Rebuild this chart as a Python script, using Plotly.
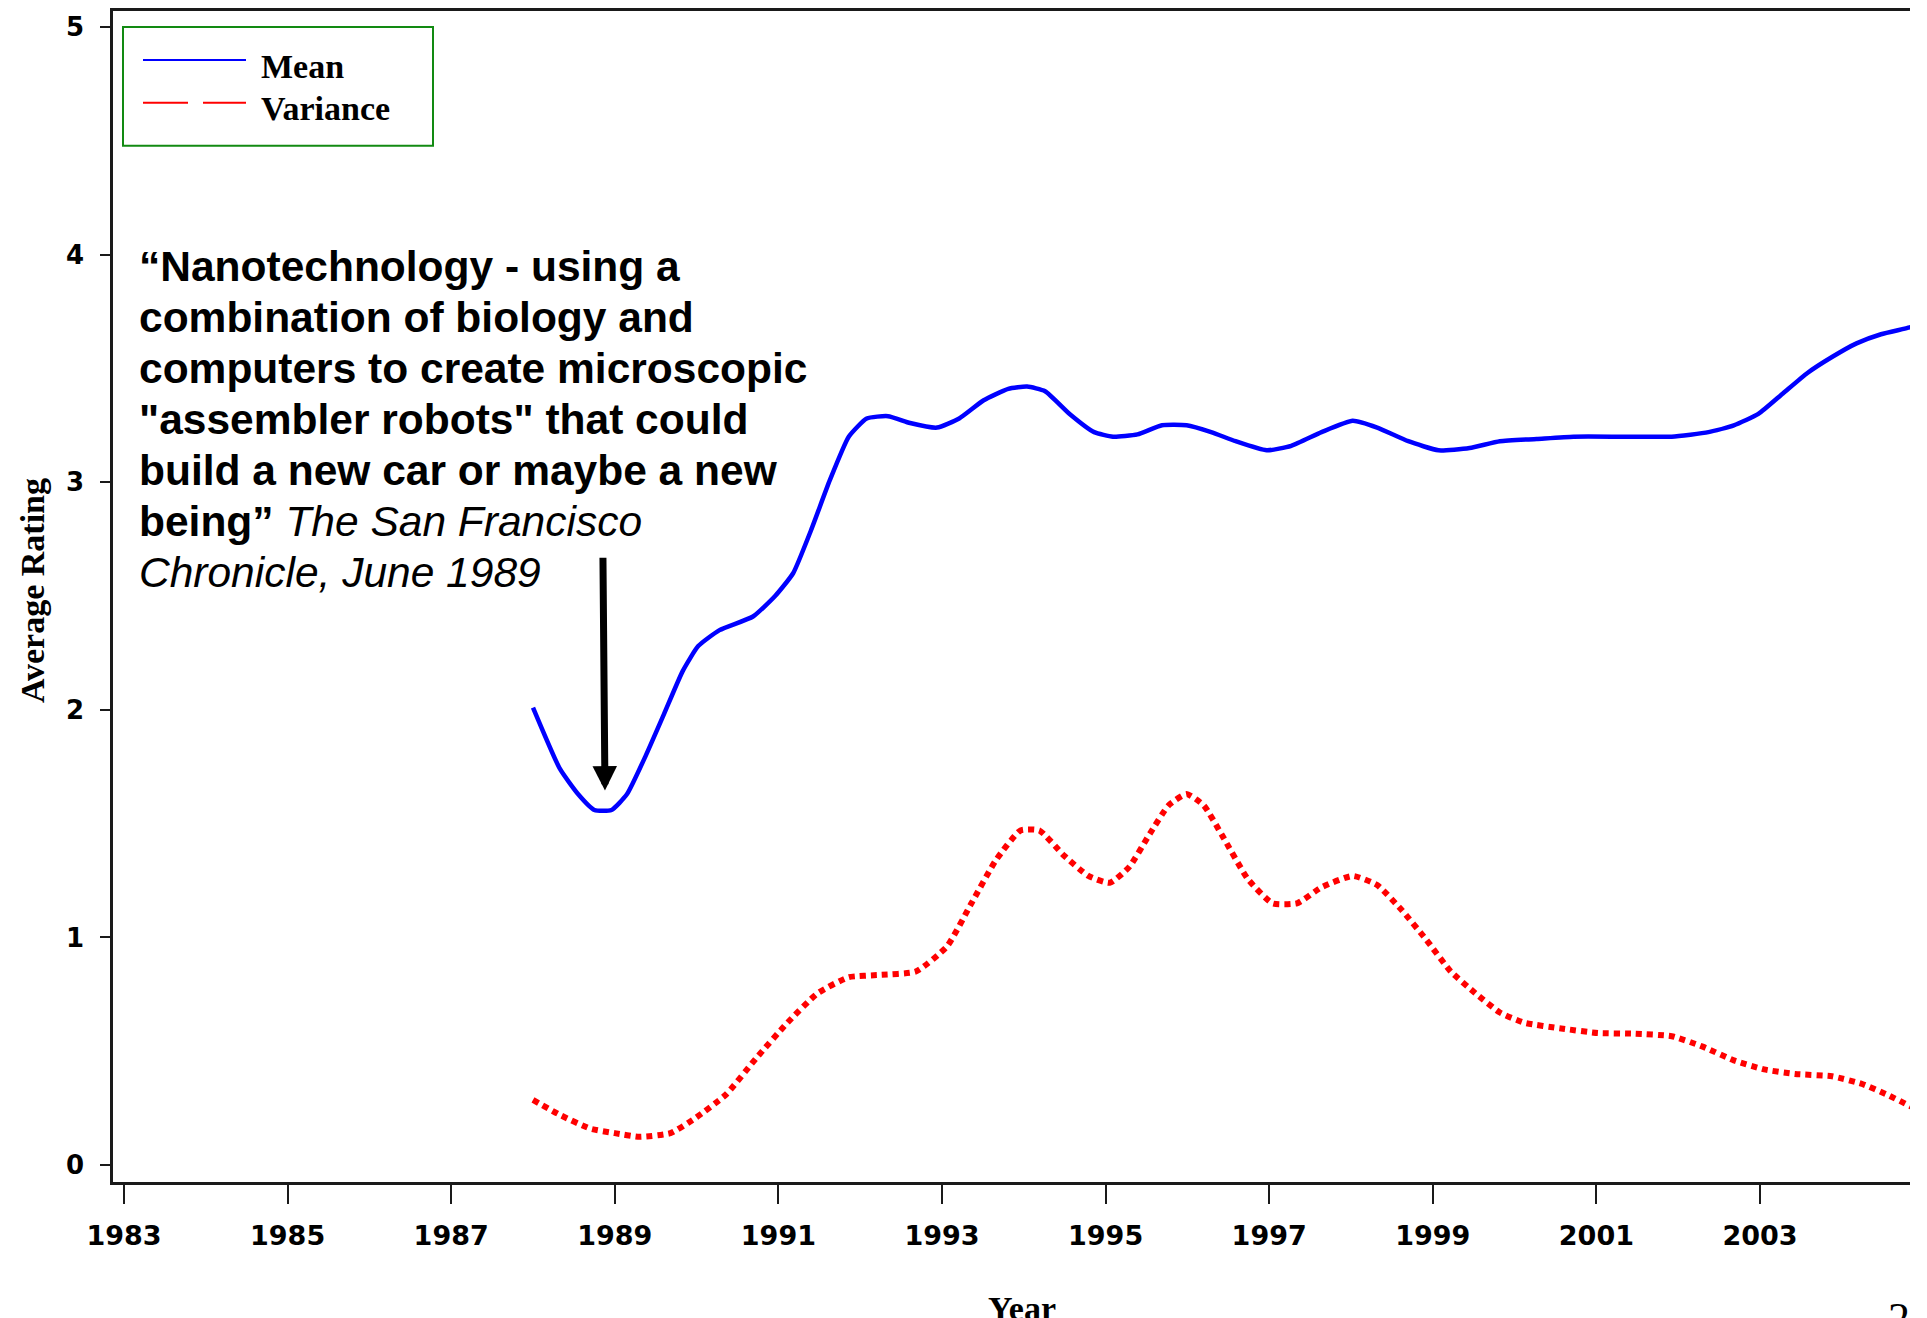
import plotly.graph_objects as go

# ---------------- data ----------------
mean_years = [1988.0, 1988.33, 1988.55, 1988.75, 1988.96, 1989.15, 1989.38, 1989.6, 1989.83, 1990.02,
              1990.28, 1990.69, 1990.96, 1991.18, 1991.4, 1991.63, 1991.86, 1992.08, 1992.34, 1992.61,
              1992.94, 1993.21, 1993.51, 1993.81, 1994.04, 1994.26, 1994.56, 1994.86, 1995.09, 1995.39,
              1995.69, 1995.99, 1996.29, 1996.59, 1996.97, 1997.27, 1997.64, 1998.02, 1998.32, 1998.7,
              1999.07, 1999.45, 1999.82, 2000.27, 2000.72, 2001.32, 2001.92, 2002.37, 2002.68, 2002.98,
              2003.28, 2003.58, 2003.88, 2004.18, 2004.48, 2004.83, 2005.0]
mean_vals = [2.01, 1.74, 1.63, 1.56, 1.56, 1.63, 1.80, 1.98, 2.17, 2.28,
             2.35, 2.41, 2.50, 2.60, 2.79, 3.01, 3.20, 3.28, 3.29, 3.26,
             3.24, 3.28, 3.36, 3.41, 3.42, 3.40, 3.30, 3.22, 3.20, 3.21,
             3.25, 3.25, 3.22, 3.18, 3.14, 3.16, 3.22, 3.27, 3.24, 3.18,
             3.14, 3.15, 3.18, 3.19, 3.20, 3.20, 3.20, 3.22, 3.25, 3.30,
             3.39, 3.48, 3.55, 3.61, 3.65, 3.68, 3.70]

var_years = [1988.0, 1988.33, 1988.7, 1989.0, 1989.3, 1989.68, 1989.98, 1990.36, 1990.73, 1991.11,
             1991.48, 1991.86, 1992.23, 1992.68, 1993.06, 1993.36, 1993.66, 1993.96, 1994.19, 1994.49,
             1994.79, 1995.05, 1995.29, 1995.54, 1995.77, 1995.99, 1996.2, 1996.43, 1996.74, 1997.04,
             1997.34, 1997.64, 1998.02, 1998.32, 1998.62, 1998.92, 1999.22, 1999.52, 1999.82, 2000.12,
             2000.57, 2001.02, 2001.47, 2001.92, 2002.3, 2002.68, 2003.05, 2003.43, 2003.88, 2004.25,
             2004.55, 2004.83, 2005.0]
var_vals = [0.286, 0.22, 0.16, 0.14, 0.124, 0.14, 0.205, 0.31, 0.47, 0.625,
            0.755, 0.825, 0.835, 0.85, 0.96, 1.15, 1.34, 1.47, 1.47, 1.36,
            1.27, 1.24, 1.31, 1.455, 1.58, 1.63, 1.58, 1.445, 1.256, 1.15,
            1.15, 1.22, 1.27, 1.23, 1.12, 0.99, 0.85, 0.755, 0.67, 0.625,
            0.60, 0.58, 0.577, 0.566, 0.52, 0.46, 0.42, 0.40, 0.39, 0.356,
            0.31, 0.26, 0.23]

x_tick_vals = [1983, 1985, 1987, 1989, 1991, 1993, 1995, 1997, 1999, 2001, 2003, 2005]
x_tick_text = ["1983", "1985", "1987", "1989", "1991", "1993", "1995", "1997", "1999", "2001", "2003", "2005"]
y_tick_vals = [0, 1, 2, 3, 4, 5]
y_tick_text = ["0", "1", "2", "3", "4", "5"]

legend_labels = ["Mean", "Variance"]
x_title = "Year"
y_title = "Average Rating"
quote_lines = [
    "<b>“Nanotechnology - using a</b>",
    "<b>combination of biology and</b>",
    "<b>computers to create microscopic</b>",
    "<b>\"assembler robots\" that could</b>",
    "<b>build a new car or maybe a new</b>",
    "<b>being”</b> <i>The San Francisco</i>",
    "<i>Chronicle, June 1989</i>",
]
arrow_tip = (1988.88, 1.645)
arrow_tail = (1988.855, 2.675)
page_number = "2"

# ---------------- layout geometry (screen pixels; page body has an 8px margin) ----------------
OFF = 8
SCR_W, SCR_H = 1927, 1318
W, H = SCR_W - OFF, SCR_H - OFF
P_LEFT, P_TOP, P_BOTTOM, P_RIGHT = 113, 9, 1182, SCR_W
L = P_LEFT - OFF
T = P_TOP - OFF
B = H - (P_BOTTOM - OFF)
R = 0


def px(xs):
    return (xs - P_LEFT) / (P_RIGHT - P_LEFT)


def py(ys):
    return (P_BOTTOM - ys) / (P_BOTTOM - P_TOP)


YEAR_PX = 81.8        # pixels per year
X0_PX = 124           # screen x of 1983
UNIT_PX = 228         # pixels per rating unit
Y0_PX = 1165          # screen y of rating 0
x_range = [1983 - (X0_PX - P_LEFT) / YEAR_PX, 1983 + (P_RIGHT - X0_PX) / YEAR_PX]
y_range = [-(P_BOTTOM - Y0_PX) / UNIT_PX, (Y0_PX - P_TOP) / UNIT_PX]

fig = go.Figure()
fig.add_trace(go.Scatter(
    x=mean_years, y=mean_vals, mode="lines", name=legend_labels[0],
    line=dict(color="#0000FF", width=4.5, shape="spline", smoothing=0.5),
    showlegend=False, hoverinfo="skip"))
fig.add_trace(go.Scatter(
    x=var_years, y=var_vals, mode="lines", name=legend_labels[1],
    line=dict(color="#FF0000", width=6, dash="6px,5px", shape="spline", smoothing=0.5),
    showlegend=False, hoverinfo="skip"))

axis_color = "#1a1a1a"
fig.update_xaxes(
    range=x_range, tickmode="array", tickvals=x_tick_vals, ticktext=x_tick_text,
    showgrid=False, zeroline=False, showline=True, linecolor=axis_color, linewidth=2.5,
    mirror=True, ticks="outside", ticklen=19, tickwidth=2, tickcolor=axis_color,
    tickfont=dict(family="DejaVu Sans", size=27, color="black", weight=700),
    ticklabelstandoff=9)
fig.update_yaxes(
    range=y_range, tickmode="array", tickvals=y_tick_vals, ticktext=y_tick_text,
    showgrid=False, zeroline=False, showline=True, linecolor=axis_color, linewidth=2.5,
    mirror=False, ticks="outside", ticklen=10, tickwidth=2, tickcolor=axis_color,
    tickfont=dict(family="DejaVu Sans", size=26, color="black", weight=700),
    ticklabelstandoff=11)

shapes = []
# legend box and samples
shapes.append(dict(type="rect", xref="paper", yref="paper", x0=px(123), x1=px(433), y0=py(144), y1=py(25),
                   line=dict(color="#128A12", width=2), fillcolor="rgba(0,0,0,0)"))
shapes.append(dict(type="line", xref="paper", yref="paper", x0=px(143), x1=px(246), y0=py(58), y1=py(58),
                   line=dict(color="#0000FF", width=2)))
shapes.append(dict(type="line", xref="paper", yref="paper", x0=px(143), x1=px(188), y0=py(101), y1=py(101),
                   line=dict(color="#FF0000", width=2)))
shapes.append(dict(type="line", xref="paper", yref="paper", x0=px(203), x1=px(246), y0=py(101), y1=py(101),
                   line=dict(color="#FF0000", width=2)))
# right edge of the picture is cut off
shapes.append(dict(type="rect", xref="paper", yref="paper", x0=px(1910), x1=px(SCR_W + 40),
                   y0=py(SCR_H + 40), y1=py(-40),
                   line=dict(width=0), fillcolor="white", layer="above"))

annotations = []
serif = "Liberation Serif"
annotations.append(dict(text=legend_labels[0], xref="paper", yref="paper", x=px(259), y=py(65),
                        xanchor="left", yanchor="middle", showarrow=False,
                        font=dict(family=serif, size=34, color="black", weight=700)))
annotations.append(dict(text=legend_labels[1], xref="paper", yref="paper", x=px(259), y=py(107),
                        xanchor="left", yanchor="middle", showarrow=False,
                        font=dict(family=serif, size=34, color="black", weight=700)))
annotations.append(dict(text=y_title, xref="paper", yref="paper", x=px(32), y=py(590), textangle=-90,
                        xanchor="center", yanchor="middle", showarrow=False,
                        font=dict(family=serif, size=34, color="black", weight=700)))
annotations.append(dict(text=x_title, xref="paper", yref="paper", x=px(1022), y=py(1288),
                        xanchor="center", yanchor="top", showarrow=False,
                        font=dict(family=serif, size=34, color="black", weight=700)))
annotations.append(dict(text=page_number, xref="paper", yref="paper", x=px(1886), y=py(1292),
                        xanchor="left", yanchor="top", showarrow=False,
                        font=dict(family=serif, size=44, color="black")))
for k, line in enumerate(quote_lines):
    baseline = 279 + 51 * k
    annotations.append(dict(text=line, xref="paper", yref="paper", x=px(137), y=py(baseline - 14),
                            xanchor="left", yanchor="middle", showarrow=False,
                            font=dict(family="Liberation Sans", size=42.5, color="black")))
annotations.append(dict(text="", x=arrow_tip[0], y=arrow_tip[1], xref="x", yref="y",
                        ax=arrow_tail[0], ay=arrow_tail[1], axref="x", ayref="y",
                        showarrow=True, arrowhead=2, arrowsize=0.7, arrowwidth=7, arrowcolor="black"))

fig.update_layout(
    width=W, height=H, margin=dict(l=L, r=R, t=T, b=B, pad=0),
    paper_bgcolor="white", plot_bgcolor="white",
    shapes=shapes, annotations=annotations, showlegend=False)

fig.write_html("out.html")
